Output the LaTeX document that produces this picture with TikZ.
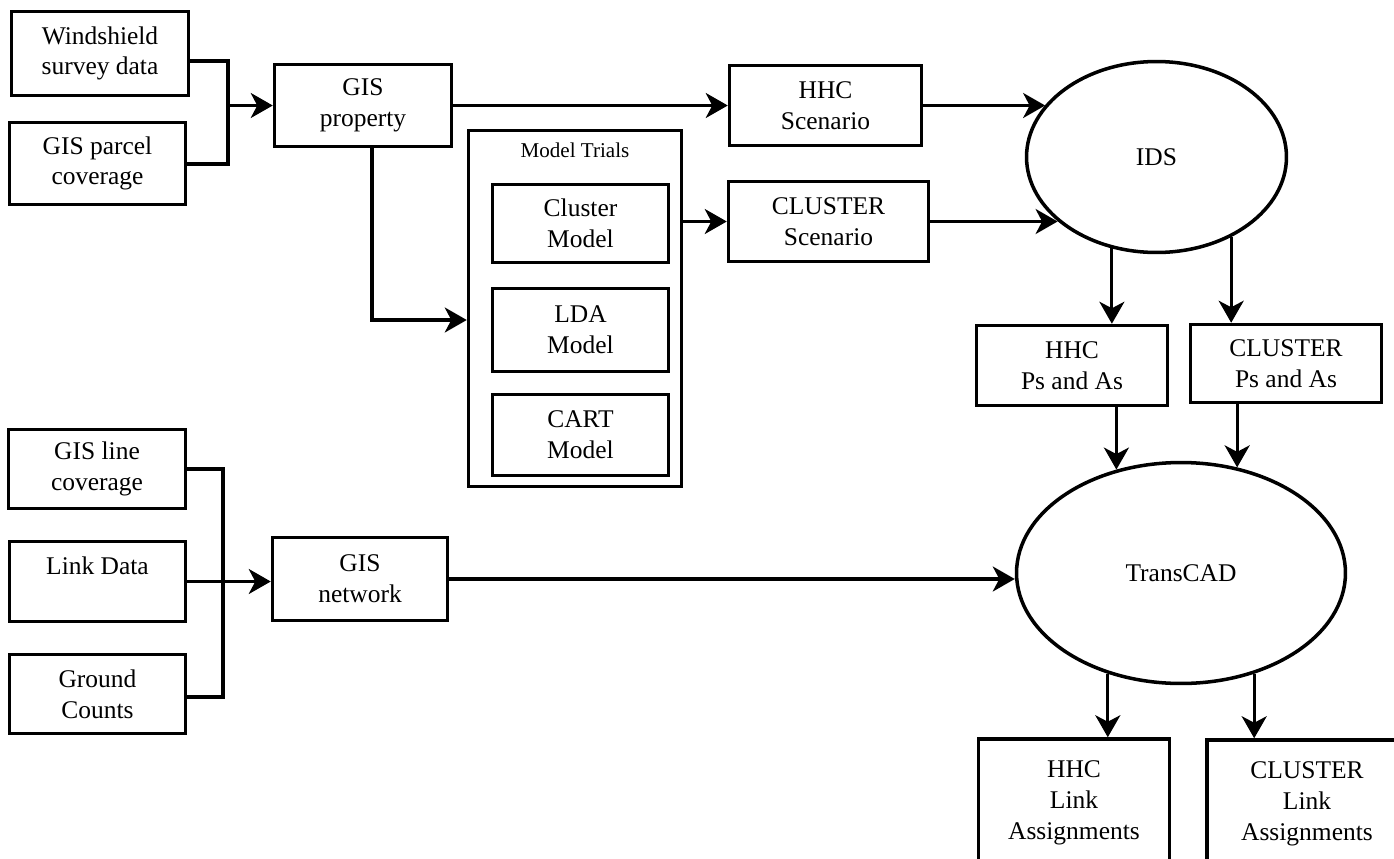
\documentclass[tikz,border=0pt]{standalone}
\usepackage{fontspec}
\setmainfont{Liberation Serif}
\usetikzlibrary{shapes, arrows, arrows.meta}

\begin{document}
\begin{tikzpicture}[x=0.02cm, y=-0.02cm, line width=1.8pt,
    >={Stealth[length=0.44cm, width=0.5cm, inset=0.13cm]},
    every node/.style={font=\fontsize{14.5}{17.5}\selectfont, align=center},
    box/.style={draw, rectangle, line width=2pt, minimum width=3.52cm, minimum height=1.6cm},
    oval/.style={draw, ellipse, line width=2pt}]
    \useasboundingbox (0,0) rectangle (1394,859);
    \clip (0,0) rectangle (1394,859);

            % inputs, top
            \node[box, minimum width=3.54cm, minimum height=1.68cm] (wind) at (100, 53.5) {Windshield\\survey data};
            \node[box, minimum height=1.64cm] (parcel) at (97.5, 163.5) {GIS parcel\\coverage};
            \node[box, minimum width=3.54cm, minimum height=1.64cm] (prop) at (363, 105.5) {GIS\\property};

            % model trials
            \node[box, minimum width=4.26cm, minimum height=7.12cm,
                  label={[anchor=north, yshift=-0.14cm, font=\fontsize{12}{14}\selectfont]north:Model Trials}] (trials) at (575, 308.5) {};
            \node[box, minimum height=1.56cm] (clm) at (580.5, 223.5) {Cluster\\Model};
            \node[box, minimum height=1.66cm] (lda) at (580.5, 330) {LDA\\Model};
            \node[box, minimum height=1.62cm] (cart) at (580.5, 435) {CART\\Model};

            % scenarios
            \node[box, minimum width=3.84cm] (hhcs) at (825.5, 105.5) {HHC\\Scenario};
            \node[box, minimum width=4.0cm] (clus) at (828.5, 221.5) {CLUSTER\\Scenario};
            \node[oval, minimum width=5.2cm, minimum height=3.82cm] (ids) at (1156.5, 157) {IDS};

            \node[box, minimum width=3.82cm] (hhcpa) at (1072, 365.5) {HHC\\Ps and As};
            \node[box, minimum width=3.82cm, minimum height=1.56cm] (cluspa) at (1286, 363.5) {CLUSTER\\Ps and As};

            % inputs, bottom
            \node[box, minimum width=3.54cm, minimum height=1.58cm] (lcov) at (97, 469) {GIS line\\coverage};
            \node[box] (link) at (97.5, 581.5) {Link Data\\~};
            \node[box, minimum height=1.58cm] (ground) at (97.5, 694) {Ground\\Counts};
            \node[box, minimum width=3.5cm, minimum height=1.66cm] (net) at (360, 579) {GIS\\network};

            \node[oval, minimum width=6.58cm, minimum height=4.42cm] (trans) at (1181, 573) {TransCAD};
            \node[box, minimum width=3.82cm, minimum height=2.56cm] (hhcla) at (1074, 803) {HHC\\Link\\Assignments};
            \node[box, minimum width=4.0cm, minimum height=2.56cm] (clusla) at (1307, 804) {CLUSTER\\Link\\Assignments};

            \coordinate (j1t) at (228, 61);
            \coordinate (j1b) at (228, 164);
            \coordinate (j2b) at (223, 697);
            \coordinate (pd) at (372, 320);

            \draw (wind.east |- j1t) -| (j1b) -- (parcel.east |- j1b);
            \draw[->] (j1b |- prop.west) -- (prop.west);
            \draw[->] (prop.east) -- (hhcs.west);
            \draw[->] (prop.south -| pd) -- (pd) -- (trials.west |- pd);
            \draw[->] (trials.east |- clus.west) -- (clus.west);
            \draw[->] (hhcs.east) -- (hhcs.east -| ids.155);
            \draw[->] (clus.east) -- (clus.east -| ids.213);
            \draw[->] (ids.244) -- (ids.244 |- hhcpa.north);
            \draw[->] (ids.313) -- (ids.313 |- cluspa.north);
            \draw[->] (hhcpa.south -| trans.122) -- (trans.122);
            \draw[->] (cluspa.south -| trans.62) -- (trans.62);

            \draw (lcov.east) -| (j2b) -- (ground.east |- j2b);
            \draw[->] (link.east) -- (link.east -| net.west);
            \draw[->] (net.east) -- (net.east -| trans.west);
            \draw[->] (trans.234) -- (trans.234 |- hhcla.north);
            \draw[->] (trans.306) -- (trans.306 |- clusla.north);
    	\end{tikzpicture}
\end{document}
